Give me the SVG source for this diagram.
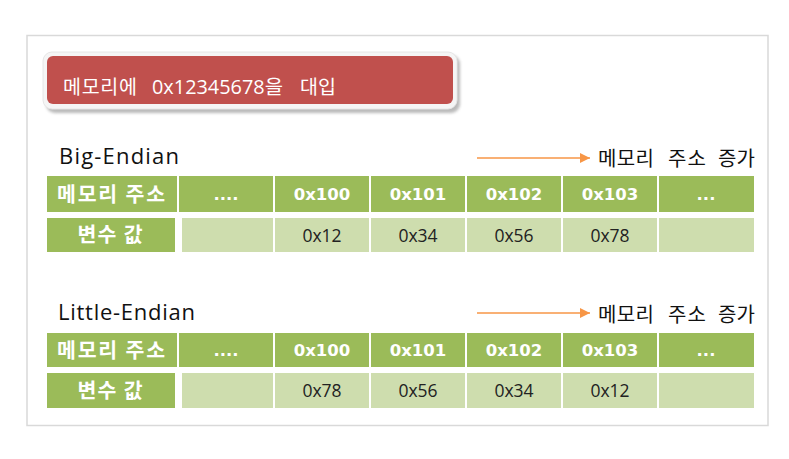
<svg xmlns="http://www.w3.org/2000/svg" width="789" height="459" viewBox="0 0 789 459">
<defs>
<style>
.hd{fill:#9BBB59}
.vl{fill:#CEDDAE}
.kh{font-family:"Noto Sans CJK KR",sans-serif;font-weight:700;font-size:20.5px;fill:#fff;text-anchor:middle}
.nh{font-family:"DejaVu Sans",sans-serif;font-weight:700;font-size:16.5px;fill:#fff;text-anchor:middle}
.nv{font-family:"Open Sans",sans-serif;font-size:17.5px;fill:#222;text-anchor:middle}
.ttl{font-family:"Open Sans",sans-serif;font-size:22px;fill:#111}
.inc{font-family:"Noto Sans CJK KR",sans-serif;font-size:20px;fill:#111}
.arr{stroke:#F79646;stroke-width:1.5;fill:none}
</style>
<marker id="ah" viewBox="0 0 10 10" refX="10" refY="5" markerWidth="10" markerHeight="10" markerUnits="userSpaceOnUse" orient="auto">
<path d="M0,0 L10,5 L0,10 Z" fill="#F79646"/>
</marker>
<filter id="sh" x="-5%" y="-20%" width="110%" height="140%">
<feGaussianBlur stdDeviation="1.5"/>
</filter>
</defs>
<rect x="0" y="0" width="789" height="459" fill="#fff"/>
<rect x="27" y="35.5" width="741" height="390" fill="#fff" stroke="#D9D9D9" stroke-width="1.5"/>

<g id="title">
<rect x="46" y="55" width="414" height="58" rx="9" fill="#8c8c8c" opacity="0.6" filter="url(#sh)"/>
<rect x="43" y="52" width="414" height="57" rx="9" fill="#F5F5F5" stroke="#E6E6E6" stroke-width="1"/>
<rect x="47" y="56" width="406" height="48" rx="6" fill="#C0504D"/>
<text font-family="Open Sans, Noto Sans CJK KR, sans-serif" font-size="19.5" fill="#fff" y="94"><tspan x="63" textLength="74" lengthAdjust="spacing">메모리에</tspan><tspan x="152" textLength="131" lengthAdjust="spacingAndGlyphs">0x12345678을</tspan><tspan x="300" textLength="36" lengthAdjust="spacing">대입</tspan></text>
</g>

<g id="big-label"><text class="ttl" x="59" y="164" textLength="120" lengthAdjust="spacing">Big-Endian</text></g>
<g id="little-label"><text class="ttl" x="58" y="320" textLength="137" lengthAdjust="spacing">Little-Endian</text></g>

<g id="connectors">
<line class="arr" x1="477" y1="158" x2="590" y2="158" marker-end="url(#ah)"/>
<line class="arr" x1="477" y1="313" x2="590" y2="313" marker-end="url(#ah)"/>
</g>
<g id="big-inc"><text class="inc" y="166"><tspan x="598" textLength="56" lengthAdjust="spacing">메모리</tspan><tspan x="668" textLength="38" lengthAdjust="spacing">주소</tspan><tspan x="718" textLength="37" lengthAdjust="spacing">증가</tspan></text></g>
<g id="little-inc"><text class="inc" y="322"><tspan x="598" textLength="56" lengthAdjust="spacing">메모리</tspan><tspan x="668" textLength="38" lengthAdjust="spacing">주소</tspan><tspan x="718" textLength="37" lengthAdjust="spacing">증가</tspan></text></g>

<g id="big-table">
<rect class="hd" x="47" y="176" width="130" height="36"/>
<rect class="hd" x="179" y="176" width="94" height="36"/>
<rect class="hd" x="275" y="176" width="94" height="36"/>
<rect class="hd" x="371" y="176" width="94" height="36"/>
<rect class="hd" x="467" y="176" width="94" height="36"/>
<rect class="hd" x="563" y="176" width="94" height="36"/>
<rect class="hd" x="659" y="176" width="95" height="36"/>
<rect class="hd" x="47" y="218" width="128" height="34"/>
<rect class="vl" x="182" y="218" width="91" height="34"/>
<rect class="vl" x="275" y="218" width="94" height="34"/>
<rect class="vl" x="371" y="218" width="94" height="34"/>
<rect class="vl" x="467" y="218" width="94" height="34"/>
<rect class="vl" x="563" y="218" width="94" height="34"/>
<rect class="vl" x="659" y="218" width="95" height="34"/>
<text class="kh" x="111" y="202" textLength="108" lengthAdjust="spacing">메모리 주소</text>
<text class="nh" x="226" y="200">....</text>
<text class="nh" x="322" y="200">0x100</text>
<text class="nh" x="418" y="200">0x101</text>
<text class="nh" x="514" y="200">0x102</text>
<text class="nh" x="610" y="200">0x103</text>
<text class="nh" x="706" y="200">...</text>
<text class="kh" x="110" y="242" textLength="65" lengthAdjust="spacing">변수 값</text>
<text class="nv" x="322" y="242">0x12</text>
<text class="nv" x="418" y="242">0x34</text>
<text class="nv" x="514" y="242">0x56</text>
<text class="nv" x="610" y="242">0x78</text>
</g>

<g id="little-table">
<rect class="hd" x="47" y="333" width="130" height="34"/>
<rect class="hd" x="179" y="333" width="94" height="34"/>
<rect class="hd" x="275" y="333" width="94" height="34"/>
<rect class="hd" x="371" y="333" width="94" height="34"/>
<rect class="hd" x="467" y="333" width="94" height="34"/>
<rect class="hd" x="563" y="333" width="94" height="34"/>
<rect class="hd" x="659" y="333" width="95" height="34"/>
<rect class="hd" x="47" y="373" width="128" height="35"/>
<rect class="vl" x="182" y="373" width="91" height="35"/>
<rect class="vl" x="275" y="373" width="94" height="35"/>
<rect class="vl" x="371" y="373" width="94" height="35"/>
<rect class="vl" x="467" y="373" width="94" height="35"/>
<rect class="vl" x="563" y="373" width="94" height="35"/>
<rect class="vl" x="659" y="373" width="95" height="35"/>
<text class="kh" x="111" y="358" textLength="108" lengthAdjust="spacing">메모리 주소</text>
<text class="nh" x="226" y="356">....</text>
<text class="nh" x="322" y="356">0x100</text>
<text class="nh" x="418" y="356">0x101</text>
<text class="nh" x="514" y="356">0x102</text>
<text class="nh" x="610" y="356">0x103</text>
<text class="nh" x="706" y="356">...</text>
<text class="kh" x="110" y="398" textLength="65" lengthAdjust="spacing">변수 값</text>
<text class="nv" x="322" y="397">0x78</text>
<text class="nv" x="418" y="397">0x56</text>
<text class="nv" x="514" y="397">0x34</text>
<text class="nv" x="610" y="397">0x12</text>
</g>
</svg>
